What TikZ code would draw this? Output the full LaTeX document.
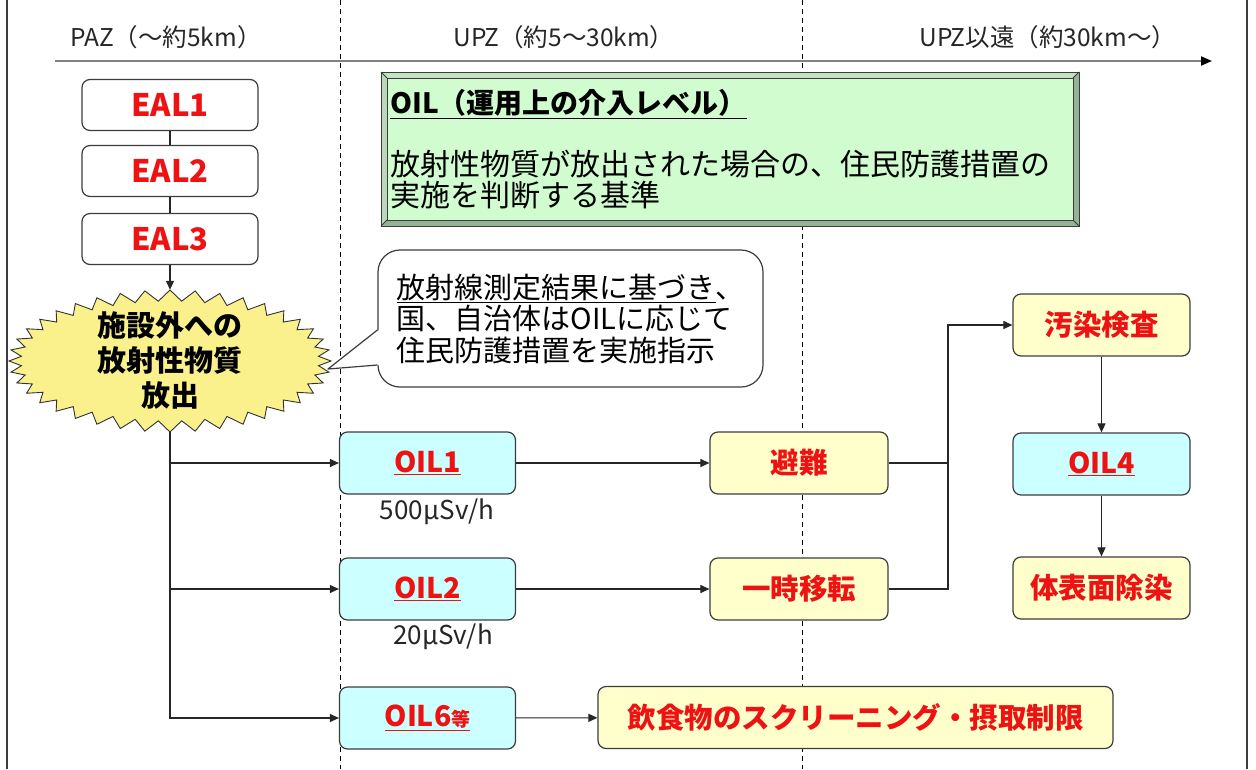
\documentclass[tikz,border=0pt]{standalone}
\usepackage{fontspec}
\setmainfont{Noto Sans CJK JP}
\usetikzlibrary{arrows.meta,calc,shapes.geometric}
\definecolor{oilred}{RGB}{238,18,18}
\definecolor{cyanfill}{RGB}{204,255,255}
\definecolor{yelfill}{RGB}{255,255,204}
\definecolor{burstfill}{RGB}{250,240,140}
\definecolor{greenface}{RGB}{208,252,208}
\definecolor{greenbevel}{RGB}{150,178,150}
\definecolor{greentop}{RGB}{196,226,196}
\definecolor{edgegray}{RGB}{60,60,60}
\definecolor{axisgray}{RGB}{128,128,128}
\newcommand\sz[2]{\fontsize{#1}{#2}\selectfont}
\tikzset{
  box/.style={draw=edgegray, line width=1.2pt, rounded corners=8pt, minimum width=176pt,
    minimum height=62pt, inner sep=0pt, font=\sz{28.5}{34}\bfseries\color{oilred}},
  ealbox/.style={box, fill=white, minimum height=51pt, font=\sz{31}{34}\bfseries\color{oilred}},
  cyanbox/.style={box, fill=cyanfill},
  yelbox/.style={box, fill=yelfill},
  hdr/.style={font=\sz{24.5}{28}, text=black!85, inner sep=0pt},
  conn/.style={draw=black!85, line width=1.1pt},
  arr/.style={conn, -{Triangle[length=9pt,width=8pt]}},
  zone/.style={draw=black, line width=0.9pt, dash pattern=on 5pt off 4pt},
  rate/.style={font=\sz{26}{30}, text=black!85, inner sep=0pt},
}
\begin{document}
\begin{tikzpicture}[x=1pt,y=-1pt]
\useasboundingbox (0,0) rectangle (1256,769);
\fill[white] (0,0) rectangle (1256,769);
% frame lines
\draw[edgegray, line width=1.2pt] (7,0) -- (7,769);
\draw[edgegray, line width=1.2pt] (1247,0) -- (1247,769);
% zone borders
\draw[zone] (340,0) -- (340,769);
\draw[zone] (802,0) -- (802,769);
% axis
\coordinate (axs) at (55,61);
\coordinate (axe) at (1212,61);
\draw[axisgray, line width=2pt, -{Triangle[length=11pt,width=9pt,fill=black,color=black]}] (axs) -- (axe);
\node[hdr] (hpaz) at (166,37) {PAZ（～約5km）};
\node[hdr] (hupz) at (564,37) {UPZ（約5～30km）};
\node[hdr] (hfar) at (1048,37) {UPZ以遠（約30km～）};

% OIL explanation box (bevelled)
\fill[greenbevel] (381,72) rectangle (1079,226);
\fill[greentop] (381,72) -- (1079,72) -- (1073,78) -- (387,78) -- cycle;
\fill[greentop!80!greenbevel] (381,72) -- (387,78) -- (387,220) -- (381,226) -- cycle;
\draw[edgegray, line width=1pt] (381,72) rectangle (1079,226);
\node[draw=edgegray, line width=1pt, fill=greenface, minimum width=686pt, minimum height=142pt, inner sep=0pt] (oilbox) at (730,149) {};
\draw[edgegray, line width=0.8pt] (381,72) -- (387,78) (1079,72) -- (1073,78) (1079,226) -- (1073,220) (381,226) -- (387,220);
\node[anchor=west, inner sep=0pt, font=\sz{28}{32}\bfseries] (oilhead) at (390,104) {\underline{OIL（運用上の介入レベル）}};
\node[anchor=west, inner sep=0pt, align=left, font=\sz{30}{31}] (oilbody) at (390,180) {放射性物質が放出された場合の、住民防護措置の\\実施を判断する基準};

% EAL column
\node[ealbox] (eal1) at (170,105) {EAL1};
\node[ealbox] (eal2) at (170,171) {EAL2};
\node[ealbox] (eal3) at (170,239) {EAL3};
\draw[conn] (eal1) -- (eal2);
\draw[conn] (eal2) -- (eal3);

% burst
\fill[burstfill, draw=black!80, line width=0.9pt]
  plot[samples=81, domain=0:80, variable=\k]
  ({170+ifthenelse(mod(round(\k),2)==0,161,149)*cos(\k*4.5)},
   {361+ifthenelse(mod(round(\k),2)==0,71,60)*sin(\k*4.5)}) -- cycle;
\node[ellipse, minimum width=322pt, minimum height=142pt, inner sep=0pt, align=center,
  font=\sz{29}{35}\bfseries] (burst) at (170,361) {施設外への\\放射性物質\\放出};
\draw[arr] (eal3) -- (burst.north);

% callout
\node[draw=edgegray, line width=1.2pt, fill=white, rounded corners=22pt, minimum width=385pt,
  minimum height=137pt, inner sep=0pt, align=left, font=\sz{29}{31.5}] (callout) at (570.5,318.5)
  {\underline{放射線測定結果に基づき}、\\国、自治体はOILに応じて\\住民防護措置を実施指示};
\coordinate (cb1) at ($(callout.west)+(0,11.5)$);
\coordinate (cb2) at ($(callout.west)+(0,46.5)$);
\coordinate (ptip) at (328,369);
\fill[white] ($(cb1)+(1.5,0)$) -- (ptip) -- ($(cb2)+(1.5,0)$) -- cycle;
\draw[edgegray, line width=1.2pt, line join=round] (cb1) -- (ptip) -- (cb2);

% OIL boxes
\node[cyanbox] (oil1) at (427.5,463) {\underline{OIL1}};
\node[rate] (r1) at (437,512) {500μSv/h};
\node[cyanbox] (oil2) at (427.5,589) {\underline{OIL2}};
\node[rate] (r2) at (443,637) {20μSv/h};
\node[cyanbox] (oil6) at (427.5,718) {\underline{OIL6{\sz{19}{22}等}}};

% actions
\node[yelbox, minimum width=178pt] (hinan) at (799,463) {避難};
\node[yelbox, minimum width=178pt] (iten) at (799,589) {一時移転};
\node[yelbox, minimum width=515pt] (food) at (855.5,717.5) {飲食物のスクリーニング・摂取制限};
\node[yelbox, minimum width=177pt] (kensa) at (1101.5,325) {汚染検査};
\node[cyanbox, minimum width=177pt] (oil4) at (1101.5,464) {\underline{OIL4}};
\node[yelbox, minimum width=177pt] (josen) at (1101.5,588) {体表面除染};

% connectors
\draw[arr] (burst.south) |- (oil6.west);
\draw[arr] (burst.south |- oil1.west) -- (oil1.west);
\draw[arr] (burst.south |- oil2.west) -- (oil2.west);
\draw[arr] (oil1) -- (hinan);
\draw[arr] (oil2) -- (iten);
\draw[arr] (oil6) -- (food);
\coordinate (jn) at (948,463);
\draw[conn] (hinan.east) -- (jn);
\draw[arr] (iten.east) -| (jn) |- (kensa.west);
\draw[arr] (kensa) -- (oil4);
\draw[arr] (oil4) -- (josen);
\end{tikzpicture}
\end{document}
